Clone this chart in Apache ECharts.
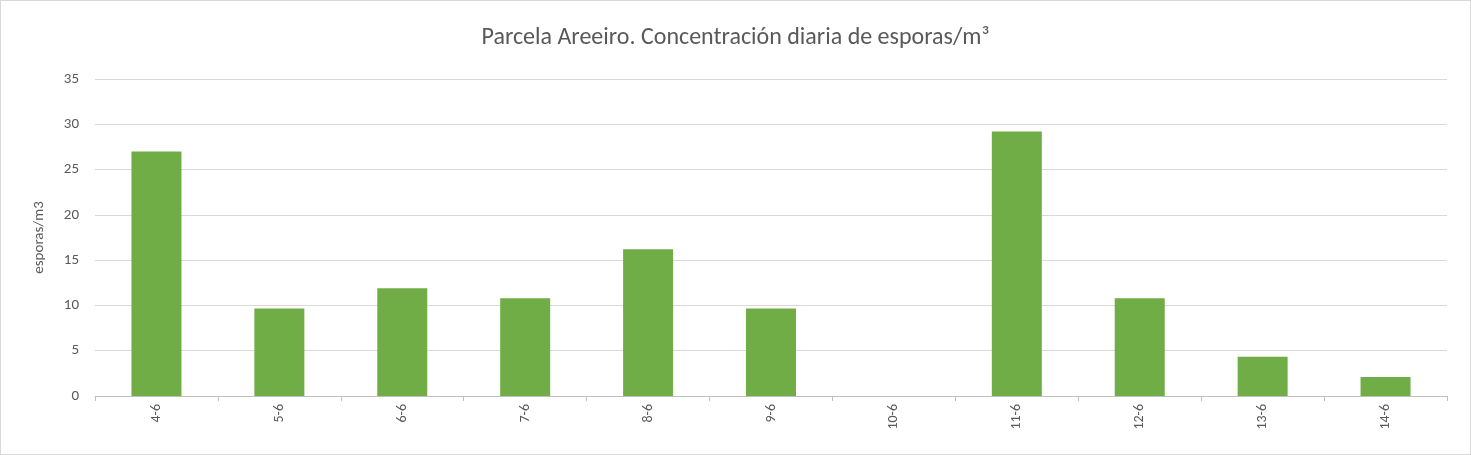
<!DOCTYPE html>
<html>
<head>
<meta charset="utf-8">
<script src="https://cdn.jsdelivr.net/npm/echarts@6/dist/echarts.min.js"></script>
<style>
  html, body { margin: 0; padding: 0; background: #fff; }
  #chart { width: 1469px; height: 453px; border: 1px solid #d9d9d9; }
</style>
</head>
<body>
<div id="chart"></div>
<script>
const categories = ['4-6', '5-6', '6-6', '7-6', '8-6', '9-6', '10-6', '11-6', '12-6', '13-6', '14-6'];
const esporas = [27.0, 9.67, 11.9, 10.8, 16.2, 9.67, 0, 29.2, 10.8, 4.33, 2.1];

var myChart = echarts.init(document.getElementById('chart'));

var option = {
    animation: false,
    textStyle: { fontFamily: 'Calibri, Carlito, "Liberation Sans", sans-serif' },
    title: {
        text: 'Parcela Areeiro. Concentración diaria de esporas/m³',
        left: 'center',
        top: 20,
        textStyle: { fontSize: 24, fontWeight: 'normal', color: '#595959' }
    },
    grid: { left: 94, right: 23, top: 78, bottom: 58 },
    xAxis: {
        type: 'category',
        data: categories,
        axisLine: { lineStyle: { color: '#bfbfbf' } },
        axisTick: { show: true, alignWithLabel: false, length: 5, lineStyle: { color: '#bfbfbf' } },
        axisLabel: { rotate: 90, color: '#595959', fontSize: 14, margin: 8 }
    },
    yAxis: {
        type: 'value',
        min: 0,
        max: 35,
        interval: 5,
        name: 'esporas/m3',
        nameLocation: 'middle',
        nameGap: 48,
        nameTextStyle: { color: '#595959', fontSize: 15 },
        axisLine: { show: false },
        axisTick: { show: false },
        axisLabel: { color: '#595959', fontSize: 15, margin: 16 },
        splitLine: { lineStyle: { color: '#d9d9d9' } }
    },
    series: [
        {
            name: 'esporas/m3',
            type: 'bar',
            data: esporas,
            barWidth: 50,
            itemStyle: { color: '#70AD47' }
        }
    ]
};

option && myChart.setOption(option);
</script>
</body>
</html>
